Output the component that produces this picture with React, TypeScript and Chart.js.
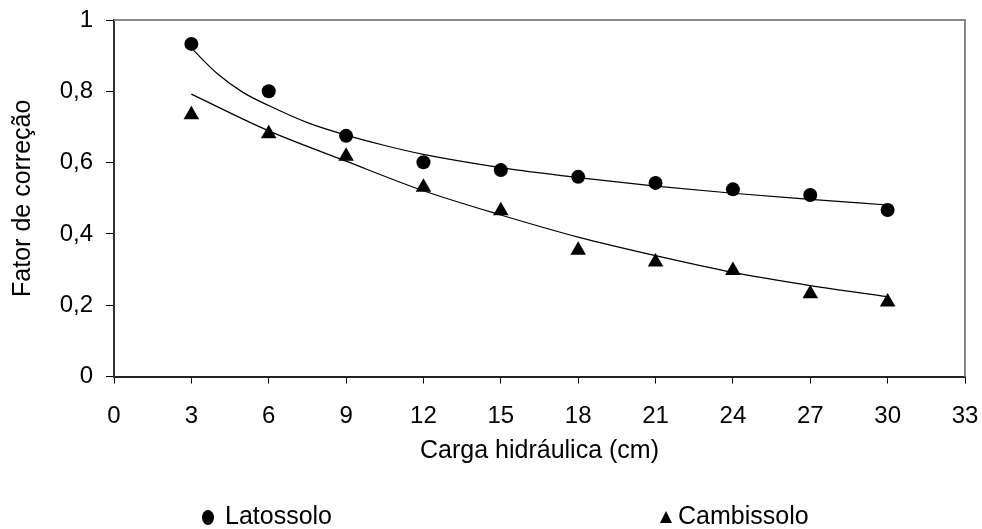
import React, { useEffect, useRef } from "react";
import { Chart, registerables } from "chart.js";

Chart.register(...registerables);

// ---- data ----
const cargaX = [3, 6, 9, 12, 15, 18, 21, 24, 27, 30];
const latossolo = [0.933, 0.8, 0.675, 0.601, 0.579, 0.56, 0.543, 0.525, 0.509, 0.467];
const cambissolo = [0.734, 0.681, 0.618, 0.531, 0.465, 0.354, 0.321, 0.297, 0.232, 0.209];

// trend curves
const latTrendX = [3, 4, 5, 6, 7.5, 9, 10.5, 12, 15, 18, 21, 24, 27, 30];
const latTrendY = [0.921, 0.85, 0.797, 0.76, 0.712, 0.677, 0.648, 0.623, 0.586, 0.558, 0.534, 0.514, 0.497, 0.481];
const cambTrendX = [3, 6, 9, 12, 15, 18, 21, 24, 27, 30];
const cambTrendY = [0.792, 0.689, 0.604, 0.521, 0.453, 0.391, 0.339, 0.292, 0.255, 0.224];

const yTickValues = [0, 0.2, 0.4, 0.6, 0.8, 1];
const yTickLabels = ["0", "0,2", "0,4", "0,6", "0,8", "1"];

const xTitle = "Carga hidráulica (cm)";
const yTitle = "Fator de correção";
const seriesNames = ["Latossolo", "Cambissolo"];

const FONT = "'Liberation Sans', Arial, sans-serif";

const pts = (xs: number[], ys: number[]) => xs.map((x, i) => ({ x, y: ys[i] }));

const frame = {
  id: "frame",
  afterDraw(chart: any) {
    const { ctx, chartArea } = chart;
    ctx.save();
    ctx.strokeStyle = "#888888";
    ctx.lineWidth = 2;
    ctx.beginPath();
    ctx.moveTo(chartArea.left, chartArea.top);
    ctx.lineTo(chartArea.right, chartArea.top);
    ctx.lineTo(chartArea.right, chartArea.bottom);
    ctx.stroke();
    ctx.restore();
  },
};

export default function App() {
  const ref = useRef<HTMLCanvasElement | null>(null);

  useEffect(() => {
    if (!ref.current) return;
    const chart = new Chart(ref.current, {
      type: "scatter",
      data: {
        datasets: [
          {
            label: seriesNames[0] + " trend",
            data: pts(latTrendX, latTrendY),
            showLine: true,
            borderColor: "#000",
            borderWidth: 1.2,
            pointRadius: 0,
            cubicInterpolationMode: "monotone",
          },
          {
            label: seriesNames[1] + " trend",
            data: pts(cambTrendX, cambTrendY),
            showLine: true,
            borderColor: "#000",
            borderWidth: 1.2,
            pointRadius: 0,
            cubicInterpolationMode: "monotone",
          },
          {
            label: seriesNames[0],
            data: pts(cargaX, latossolo),
            pointStyle: "circle",
            pointRadius: 7,
            backgroundColor: "#000",
            borderColor: "#000",
            borderWidth: 0,
          },
          {
            label: seriesNames[1],
            data: pts(cargaX, cambissolo),
            pointStyle: "triangle",
            pointRadius: 9,
            backgroundColor: "#000",
            borderColor: "#000",
            borderWidth: 0,
          },
        ],
      } as any,
      options: {
        animation: false,
        responsive: false,
        events: [],
        layout: { padding: { left: 0, top: 20, right: 17, bottom: 62.5 } },
        plugins: {
          legend: { display: false },
          tooltip: { enabled: false },
        },
        scales: {
          x: {
            type: "linear",
            min: 0,
            max: 33,
            afterFit: (s: any) => {
              s.height = 90;
              s.paddingLeft = 0;
              s.paddingRight = 0;
            },
            ticks: {
              stepSize: 3,
              color: "#000",
              padding: 18,
              font: { family: FONT, size: 24 },
            },
            grid: {
              drawOnChartArea: false,
              drawTicks: true,
              tickLength: 7,
              color: "#000",
              lineWidth: 1,
            },
            border: { display: true, color: "#222", width: 2 },
            title: {
              display: true,
              text: xTitle,
              color: "#000",
              font: { family: FONT, size: 25 },
              padding: { top: 0, bottom: 0.5 },
            },
          },
          y: {
            type: "linear",
            min: 0,
            max: 1,
            afterFit: (s: any) => {
              s.width = 114;
              s.paddingTop = 0;
              s.paddingBottom = 0;
            },
            afterBuildTicks: (s: any) => {
              s.ticks = yTickValues.map((v) => ({ value: v }));
            },
            ticks: {
              color: "#000",
              padding: 13,
              font: { family: FONT, size: 24 },
              callback: (v: any) => {
                const i = yTickValues.findIndex((t) => Math.abs(t - Number(v)) < 1e-6);
                return i >= 0 ? yTickLabels[i] : "";
              },
            },
            grid: {
              drawOnChartArea: false,
              drawTicks: true,
              tickLength: 8,
              color: "#000",
              lineWidth: 1,
            },
            border: { display: true, color: "#333", width: 2 },
            title: {
              display: true,
              text: yTitle,
              color: "#000",
              font: { family: FONT, size: 25 },
              padding: { top: 8, bottom: 0 },
            },
          },
        },
      } as any,
      plugins: [frame],
    });
    return () => chart.destroy();
  }, []);

  const textStyle: React.CSSProperties = {
    position: "absolute",
    fontFamily: FONT,
    fontSize: 25,
    lineHeight: "25px",
    color: "#000",
    whiteSpace: "nowrap",
  };

  return (
    <div
      style={{
        position: "fixed",
        left: 0,
        top: 0,
        width: 982,
        height: 529,
        background: "#fff",
        overflow: "hidden",
      }}
    >
      <canvas ref={ref} width={982} height={529} style={{ display: "block" }} />
      <div
        style={{
          position: "absolute",
          left: 202,
          top: 509.5,
          width: 12,
          height: 15,
          borderRadius: "50%",
          background: "#000",
        }}
      />
      <div style={{ ...textStyle, left: 225, top: 503 }}>{seriesNames[0]}</div>
      <div
        style={{
          position: "absolute",
          left: 660,
          top: 511,
          width: 0,
          height: 0,
          borderLeft: "6.5px solid transparent",
          borderRight: "6.5px solid transparent",
          borderBottom: "12px solid #000",
        }}
      />
      <div style={{ ...textStyle, left: 678, top: 503 }}>{seriesNames[1]}</div>
    </div>
  );
}
